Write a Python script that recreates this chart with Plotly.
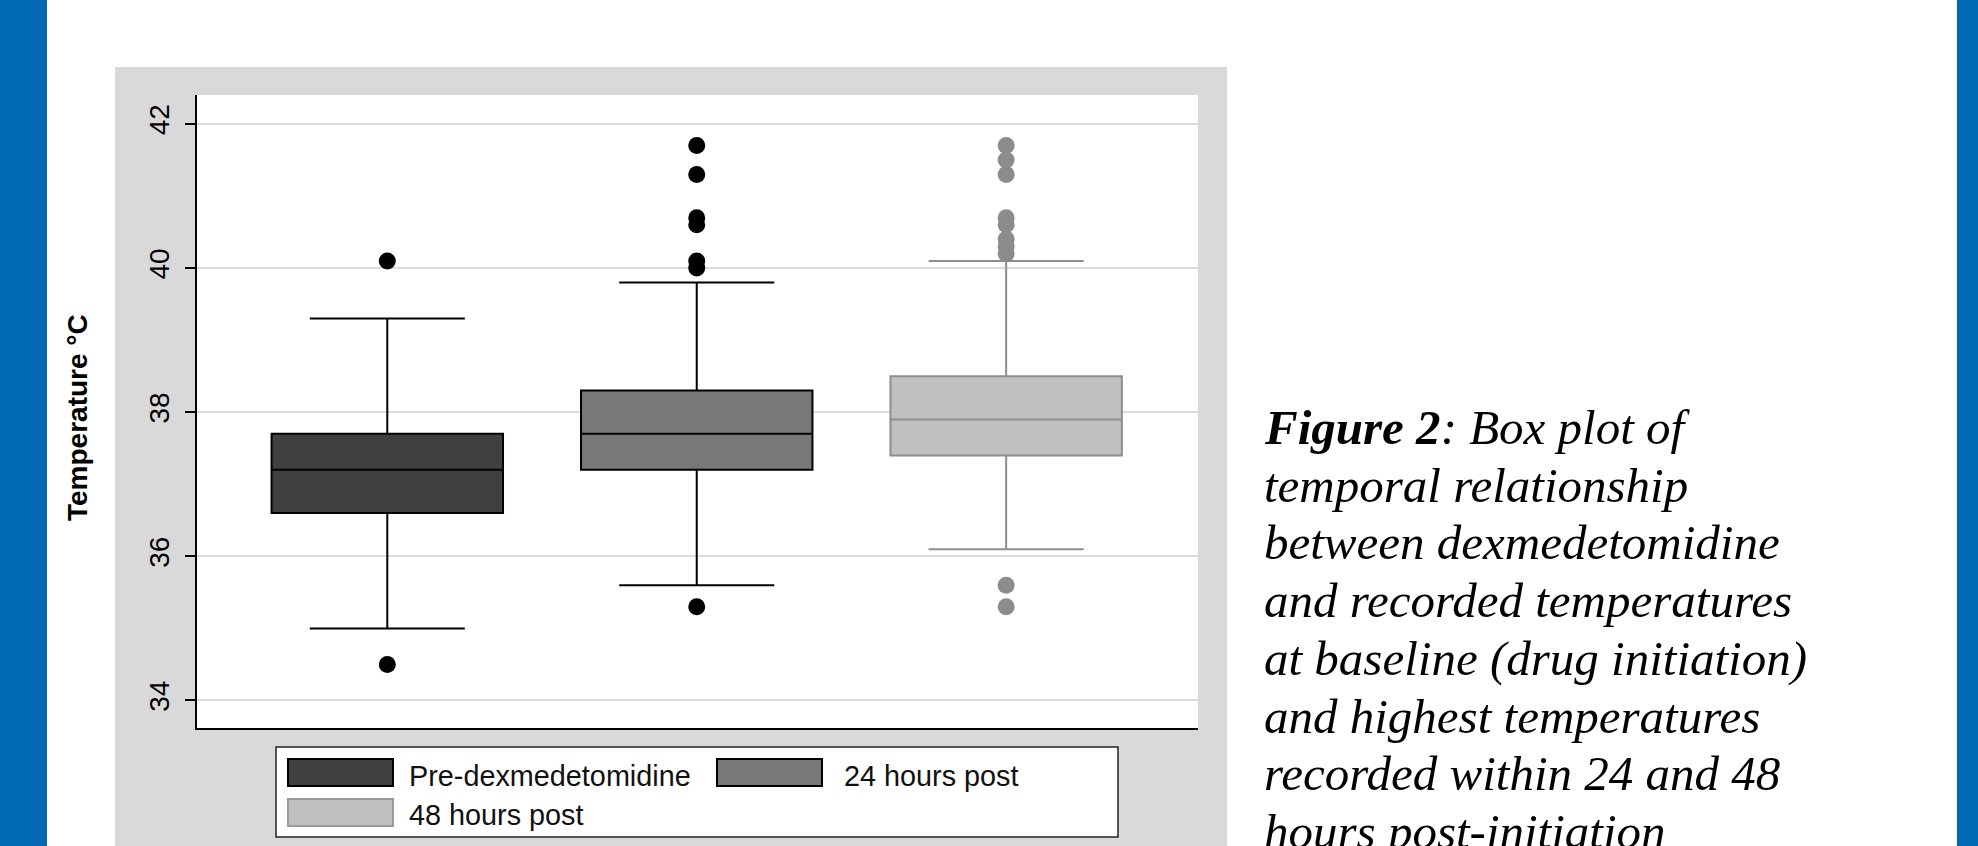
import plotly.graph_objects as go

# ---------------- data ----------------
categories = ["Pre-dexmedetomidine", "24 hours post", "48 hours post"]
q1_values = [36.6, 37.2, 37.4]
median_values = [37.2, 37.7, 37.9]
q3_values = [37.7, 38.3, 38.5]
lower_whiskers = [35.0, 35.6, 36.1]
upper_whiskers = [39.3, 39.8, 40.1]
outliers_pre = [40.1, 34.5]
outliers_24h = [41.7, 41.3, 40.7, 40.6, 40.1, 40.0, 35.3]
outliers_48h = [41.7, 41.5, 41.3, 40.7, 40.6, 40.4, 40.3, 40.2, 35.6, 35.3]
outlier_sets = [outliers_pre, outliers_24h, outliers_48h]
y_ticks = [34, 36, 38, 40, 42]
y_title = "Temperature °C"
caption_lines = [
    "<b>Figure 2</b>: Box plot of",
    "temporal relationship",
    "between dexmedetomidine",
    "and recorded temperatures",
    "at baseline (drug initiation)",
    "and highest temperatures",
    "recorded within 24 and 48",
    "hours post-initiation",
]

# ---------------- styles ----------------
fills = ["#404040", "#787878", "#c0c0c0"]
lines = ["#000000", "#000000", "#8e8e8e"]
dot_colors = ["#000000", "#000000", "#8c8c8c"]
SANS = "Liberation Sans, Arial, sans-serif"
SERIF = "Liberation Serif, Times New Roman, serif"

W, H = 1978, 846
L, R, T, B = 197, 1198, 95, 728


def px(xp):
    return (xp - L) / (R - L)


def py(yp):
    return (B - yp) / (B - T)


fig = go.Figure()

for i, cat in enumerate(categories):
    fig.add_trace(go.Box(
        x=[cat], q1=[q1_values[i]], median=[median_values[i]], q3=[q3_values[i]],
        lowerfence=[lower_whiskers[i]], upperfence=[upper_whiskers[i]],
        name=cat, fillcolor=fills[i], line=dict(color=lines[i], width=2),
        width=0.748, whiskerwidth=0.67, boxpoints=False, showlegend=False,
        hoverinfo="y",
    ))
    fig.add_trace(go.Scatter(
        x=[cat] * len(outlier_sets[i]), y=outlier_sets[i], mode="markers",
        marker=dict(color=dot_colors[i], size=17, line=dict(width=0)),
        showlegend=False, name=cat,
    ))

shapes = [
    # blue side strips
    dict(type="rect", xref="paper", yref="paper", x0=px(0), x1=px(47), y0=py(0), y1=py(H),
         fillcolor="#0069b4", line=dict(width=0), layer="below"),
    dict(type="rect", xref="paper", yref="paper", x0=px(1957), x1=px(W), y0=py(0), y1=py(H),
         fillcolor="#0069b4", line=dict(width=0), layer="below"),
    # grey graph region
    dict(type="rect", xref="paper", yref="paper", x0=px(115), x1=px(1227), y0=py(67), y1=py(H),
         fillcolor="#d9d9d9", line=dict(width=0), layer="below"),
    # white plot region
    dict(type="rect", xref="paper", yref="paper", x0=0, x1=1, y0=0, y1=1,
         fillcolor="#ffffff", line=dict(width=0), layer="below"),
    # legend frame
    dict(type="rect", xref="paper", yref="paper", x0=px(276), x1=px(1118), y0=py(747), y1=py(837),
         fillcolor="#ffffff", line=dict(color="#222222", width=1.5), layer="above"),
]

legend_items = [
    (0, 288, 759, 407, 776),
    (1, 717, 759, 842, 776),
    (2, 288, 799, 407, 815),
]
annotations = []
for idx, sx, sy, tx, ty in legend_items:
    shapes.append(dict(type="rect", xref="paper", yref="paper",
                       x0=px(sx), x1=px(sx + 105), y0=py(sy), y1=py(sy + 27),
                       fillcolor=fills[idx], line=dict(color=lines[idx] if idx < 2 else "#9a9a9a", width=2),
                       layer="above"))
    annotations.append(dict(xref="paper", yref="paper", x=px(tx), y=py(ty), xanchor="left",
                            yanchor="middle", text=categories[idx], showarrow=False,
                            font=dict(family=SANS, size=28.8, color="#111111")))

# y axis title
annotations.append(dict(xref="paper", yref="paper", x=px(77), y=py(418), text="<b>%s</b>" % y_title,
                        textangle=-90, showarrow=False, xanchor="center", yanchor="middle",
                        font=dict(family=SANS, size=28, color="#000000")))

# caption
baselines = [444, 501.7, 559.4, 617.1, 674.8, 732.5, 790.2, 847.9]
for line, base in zip(caption_lines, baselines):
    annotations.append(dict(xref="paper", yref="paper", x=px(1262), y=py(base - 16.5),
                            xanchor="left", yanchor="middle", text="<i>%s</i>" % line,
                            showarrow=False, font=dict(family=SERIF, size=49, color="#000000")))

fig.update_layout(
    width=W, height=H,
    margin=dict(l=L, r=W - R, t=T, b=H - B, pad=0),
    paper_bgcolor="#ffffff", plot_bgcolor="#ffffff",
    showlegend=False, boxmode="overlay",
    shapes=shapes, annotations=annotations,
    xaxis=dict(type="category", categoryorder="array", categoryarray=categories,
               range=[-0.615, 2.62], showticklabels=False, ticks="", showgrid=False,
               zeroline=False, showline=True, linecolor="#000000", linewidth=2, fixedrange=True),
    yaxis=dict(range=[33.618, 42.402], tickvals=y_ticks, ticks="outside", ticklen=10,
               tickwidth=1.5, tickcolor="#000000", showline=True, linecolor="#000000",
               linewidth=2, showgrid=True, gridcolor="#dcdcdc", gridwidth=1.5, zeroline=False,
               tickangle=-90, ticklabelstandoff=5,
               tickfont=dict(family=SANS, size=28, color="#000000"), fixedrange=True),
)

fig.write_html(
    "out.html",
    config={"displayModeBar": False},
    post_script="document.body.style.margin='0';document.body.style.overflow='hidden';",
)
